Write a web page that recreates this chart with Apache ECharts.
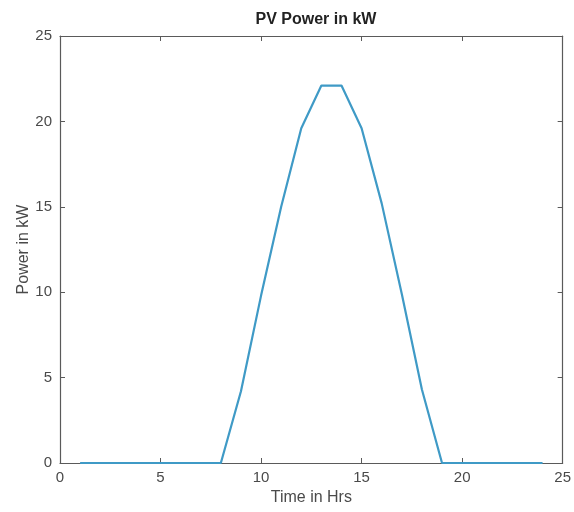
<!DOCTYPE html>
<html>
<head>
<meta charset="utf-8">
<script src="https://cdn.jsdelivr.net/npm/echarts@6/dist/echarts.min.js"></script>
<style>
  html, body { margin: 0; padding: 0; background: #fff; }
  #chart { width: 574px; height: 512px; }
</style>
</head>
<body>
<div id="chart"></div>
<script>
// Hourly PV output over one day
const hours = [1,2,3,4,5,6,7,8,9,10,11,12,13,14,15,16,17,18,19,20,21,22,23,24];
const powerKW = [0,0,0,0,0,0,0,0,4.2,9.8,15.0,19.6,22.1,22.1,19.6,15.2,9.9,4.3,0,0,0,0,0,0];
const xTicks = [0,5,10,15,20,25];
const yTicks = [0,5,10,15,20,25];

const axisGray = '#5a5a5a';
const textGray = '#4a4a4a';
const font = 'Liberation Sans, Arial, Helvetica, sans-serif';

const chart = echarts.init(document.getElementById('chart'), null, { renderer: 'canvas' });

// Shared settings for the boxed frame: inward ticks on all four sides
const baseAxis = {
  type: 'value',
  min: 0, max: 25, interval: 5,
  axisLine: { show: true, onZero: false, lineStyle: { color: axisGray, width: 1.2 } },
  axisTick: { show: true, inside: true, length: 5, lineStyle: { color: axisGray } },
  splitLine: { show: false }
};

chart.setOption({
  animation: false,
  title: {
    text: 'PV Power in kW',
    left: 311, top: 7, textAlign: 'center',
    textStyle: { fontFamily: font, fontSize: 16, fontWeight: 'bold', color: '#222' }
  },
  grid: { left: 60, right: 11, top: 36, bottom: 49, show: false },
  xAxis: [
    Object.assign({}, baseAxis, {
      position: 'bottom',
      name: 'Time in Hrs', nameLocation: 'middle', nameGap: 27, nameMoveOverlap: false,
      nameTextStyle: { fontFamily: font, fontSize: 16, color: textGray },
      axisLabel: { fontFamily: font, fontSize: 15, color: textGray, margin: 7,
        formatter: v => xTicks.includes(v) ? String(v) : '' }
    }),
    Object.assign({}, baseAxis, {
      position: 'top', axisLabel: { show: false }
    })
  ],
  yAxis: [
    Object.assign({}, baseAxis, {
      position: 'left',
      name: 'Power in kW', nameLocation: 'middle', nameGap: 28, nameMoveOverlap: false,
      nameTextStyle: { fontFamily: font, fontSize: 16, color: textGray },
      axisLabel: { fontFamily: font, fontSize: 15, color: textGray, margin: 8,
        formatter: v => yTicks.includes(v) ? String(v) : '' }
    }),
    Object.assign({}, baseAxis, {
      position: 'right', axisLabel: { show: false }
    })
  ],
  series: [{
    type: 'line',
    xAxisIndex: 0, yAxisIndex: 0,
    data: hours.map((h, i) => [h, powerKW[i]]),
    showSymbol: false,
    lineStyle: { color: '#3f9ac6', width: 2.2 },
    itemStyle: { color: '#3f9ac6' }
  }]
});
</script>
</body>
</html>
